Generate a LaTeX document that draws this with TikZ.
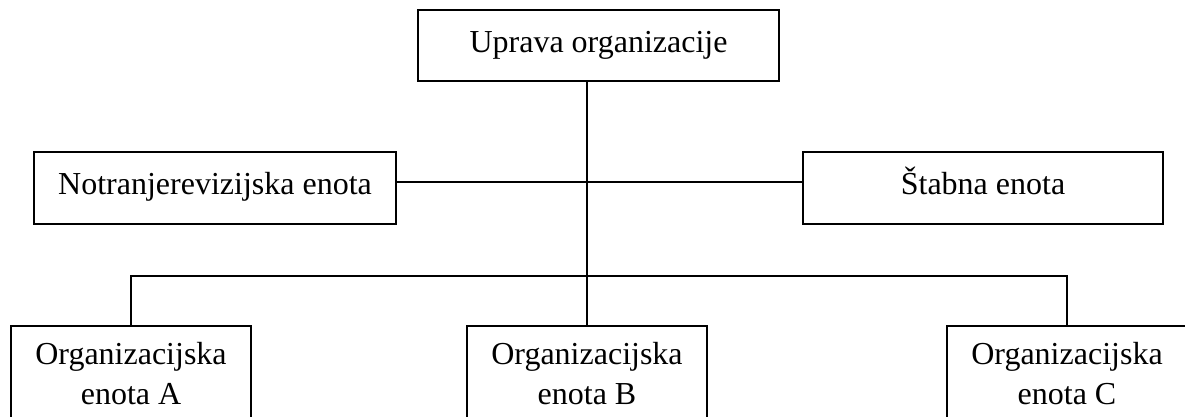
\documentclass[tikz,border=0pt]{standalone}
\usepackage{fontspec}
\setmainfont{Liberation Serif}
\begin{document}
\begin{tikzpicture}[x=1pt,y=-1pt,
  box/.style={draw=black,line width=2pt,fill=white,font=\fontsize{32}{40}\selectfont,inner sep=0pt,text height=22pt,text depth=7pt},
  unitbox/.style={draw=black,line width=2pt,fill=white,font=\fontsize{32}{40}\selectfont,align=center,minimum width=240pt,inner xsep=0pt,inner ysep=16pt,anchor=north},
  conn/.style={draw=black,line width=2pt}]
\useasboundingbox (0,0) rectangle (1185,417);
\fill[white] (0,0) rectangle (1185,417);
\clip (0,0) rectangle (1185,417);
\node[box,minimum width=361pt,minimum height=71pt] (top) at (598.5,45.5) {Uprava organizacije};
\node[box,minimum width=362pt,minimum height=72pt,text depth=10pt] (L) at (215,188) {Notranjerevizijska enota};
\node[box,minimum width=360pt,minimum height=72pt,text depth=10pt] (R) at (983,188) {Štabna enota};
\node[unitbox] (A) at (131,325) {Organizacijska\\enota A};
\node[unitbox] (B) at (587,325) {Organizacijska\\enota B};
\node[unitbox] (C) at (1067,325) {Organizacijska\\enota C};
\coordinate (bus) at (587,276);
\draw[conn] (top.south -| B.north) -- (B.north);
\draw[conn] (A.north) |- (bus) -| (C.north);
\draw[conn] ([yshift=6pt]L.east) -- ([yshift=6pt]R.west);
\end{tikzpicture}
\end{document}
